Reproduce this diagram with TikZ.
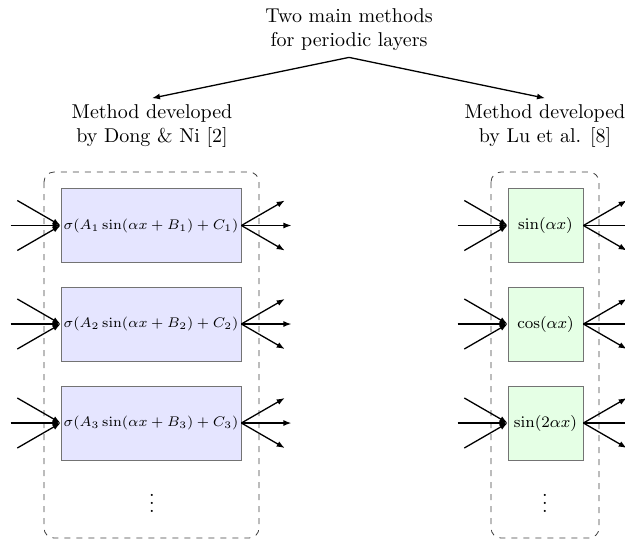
\documentclass[tikz,border=0pt]{standalone}
\usetikzlibrary{arrows.meta,calc}
\begin{document}
\begin{tikzpicture}[x=0.5pt,y=-0.5pt,
  title/.style={align=center, inner sep=3pt},
  arr/.style={-{Latex[length=4pt,width=3pt]}, line width=0.65pt},
  blk/.style={draw=black!55, minimum height=37pt, inner sep=1pt},
  sumblk/.style={blk, fill=blue!10, minimum width=90pt, font=\fontsize{7.5}{9}\selectfont},
  basisblk/.style={blk, fill=green!10, minimum width=37.5pt, font=\footnotesize},
  group/.style={draw=black!75, dashed, rounded corners=5pt}]
\useasboundingbox (0,0) rectangle (625,542);

% tree of headings
\node[title] (root) at (349,30) {Two main methods\\for periodic layers};
\node[title] (dong) at (152,126) {Method developed\\by Dong \& Ni [2]};
\node[title] (lu) at (545,126) {Method developed\\by Lu et al. [8]};
\draw[arr] (root.south) -- (dong.north);
\draw[arr] (root.south) -- (lu.north);

% dashed containers
\draw[group] (44,172) rectangle (259,538);
\draw[group] (491,172) rectangle (599,538);

% periodic units
\node[sumblk] (d1) at (151,225.5) {$\sigma(A_1\sin(\alpha x+B_1)+C_1)$};
\node[sumblk] (d2) at (151,324) {$\sigma(A_2\sin(\alpha x+B_2)+C_2)$};
\node[sumblk] (d3) at (151,423) {$\sigma(A_3\sin(\alpha x+B_3)+C_3)$};
\node[basisblk] (l1) at (545.5,225.5) {$\sin(\alpha x)$};
\node[basisblk] (l2) at (545.5,324) {$\cos(\alpha x)$};
\node[basisblk] (l3) at (545.5,423) {$\sin(2\alpha x)$};
\node (dv) at (152,497) {$\vdots$};
\node (lv) at (545,497) {$\vdots$};

% fan-in and fan-out connections
\foreach \b in {d1,d2,d3,l1,l2,l3}{
  \foreach \a in {150,180,210}
    \draw[arr] ($(\b.west)+(\a:50)$) -- (\b.west);
  \foreach \a in {-30,0,30}
    \draw[arr] (\b.east) -- ($(\b.east)+(\a:50)$);
}
\end{tikzpicture}
\end{document}
